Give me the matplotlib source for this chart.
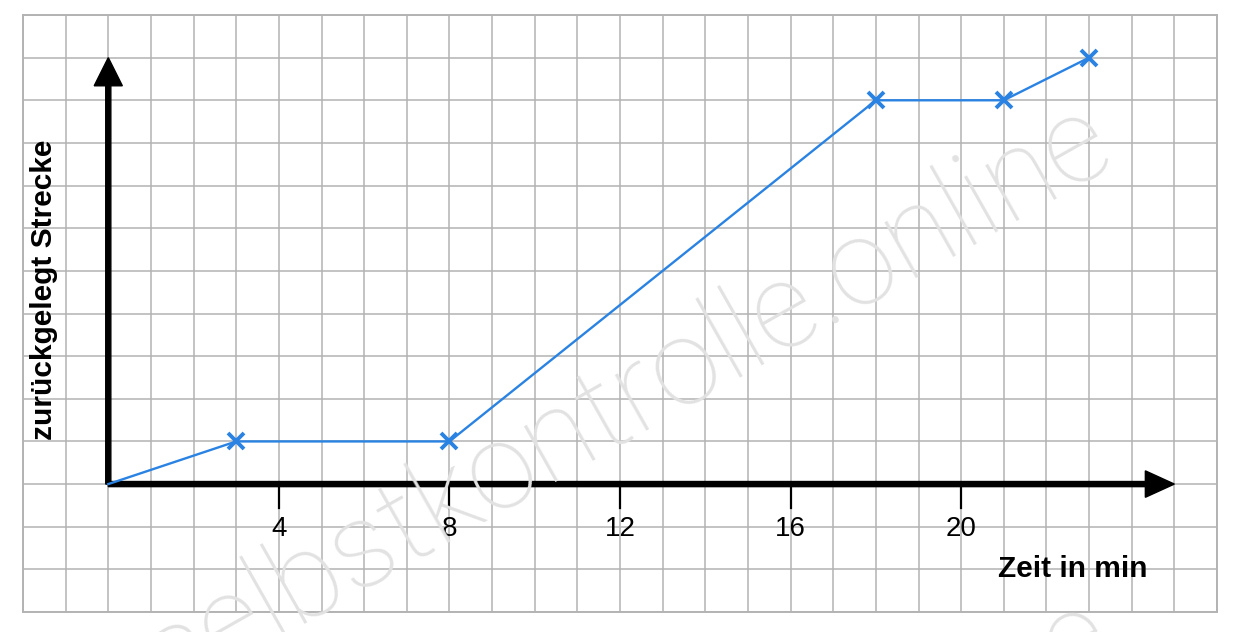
import matplotlib
matplotlib.use("Agg")
import matplotlib.pyplot as plt
import numpy as np

# data: time (min) vs. distance (grid units)
zeit = [0, 3, 8, 18, 21, 23]
strecke = [0, 1, 1, 9, 9, 10]
tick_pos = [4, 8, 12, 16, 20]
tick_labels = ["4", "8", "12", "16", "20"]

x_lim = (-2, 26)
y_lim = (-3, 11)
x_axis_end = 25
y_axis_end = 10

GRID = "#b3b3b3"
BLUE = "#2a83e2"
FONT = ["Liberation Sans", "DejaVu Sans"]

fig = plt.figure(figsize=(12.4, 6.32), dpi=100)
ax = fig.add_axes([23 / 1240, 20 / 632, 1194 / 1240, 597 / 632])
ax.set_xlim(*x_lim)
ax.set_ylim(*y_lim)

# squared paper
for gx in range(x_lim[0], x_lim[1] + 1):
    ax.axvline(gx, color=GRID, lw=1.1, zorder=1)
for gy in range(y_lim[0], y_lim[1] + 1):
    ax.axhline(gy, color=GRID, lw=1.1, zorder=1)
for s in ax.spines.values():
    s.set_color(GRID)
    s.set_linewidth(1.4)
ax.set_xticks([])
ax.set_yticks([])

# watermark (repeated, partly outside the picture like in the original)
wm = dict(fontsize=87, color="#e2e2e2", rotation=29.5, ha="center", va="center",
          family=["Roboto", "DejaVu Sans"], fontweight="light", zorder=0,
          rotation_mode="anchor")
fig.text(628 / 1240, 1 - 400 / 632, "selbstkontrolle.online", **wm)
fig.text(628 / 1240, 1 - 895 / 632, "selbstkontrolle.online", **wm)

# axes arrows
ax.arrow(0, 0, x_axis_end, 0, width=0.12, head_width=0.62, head_length=0.68,
         length_includes_head=True, color="black", zorder=4)
ax.arrow(0, 0, 0, y_axis_end, width=0.12, head_width=0.66, head_length=0.66,
         length_includes_head=True, color="black", zorder=4)

for tp, tl in zip(tick_pos, tick_labels):
    ax.plot([tp, tp], [0, -0.55], color="black", lw=1.6, zorder=4)
    ax.text(tp, -1.05, tl, ha="center", va="center", fontsize=20,
            family=FONT, zorder=5)

ax.text(24.37, -2.0, "Zeit in min", ha="right", va="center", fontsize=21.5,
        fontweight="bold", family=FONT, zorder=5)
ax.text(-1.5, 4.55, "zurückgelegt Strecke", ha="center", va="center",
        rotation=90, fontsize=21.5, fontweight="bold", family=FONT, zorder=5)

# distance-time line
ax.plot(zeit, strecke, color=BLUE, lw=1.7, zorder=6)
ax.plot(zeit[1:], strecke[1:], linestyle="none", marker="x", markersize=12,
        markeredgewidth=2.8, color=BLUE, zorder=7)

fig.savefig("out.png", dpi=100, facecolor="white")
